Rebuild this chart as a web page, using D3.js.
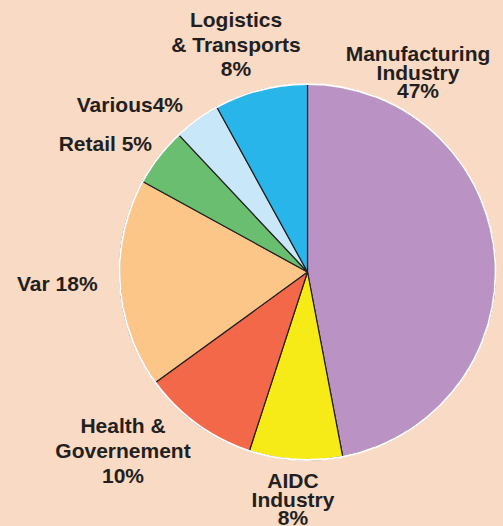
<!DOCTYPE html>
<html>
<head>
<meta charset="utf-8">
<script src="https://cdn.jsdelivr.net/npm/d3@7"></script>
<style>
  body { margin: 0; background: #F8DAC5; }
  svg { display: block; }
  text { font-family: "Liberation Sans", Arial, sans-serif; font-weight: bold; fill: #231F20; }
</style>
</head>
<body>
<svg></svg>
<script>
// Sectors, clockwise from 12 o'clock
var sectors = ['Manufacturing Industry', 'AIDC Industry', 'Health & Governement', 'Var', 'Retail', 'Various', 'Logistics & Transports'];
var shares = [47, 8, 10, 18, 5, 4, 8];
var colors = ['#BA92C4', '#F6EB17', '#F26849', '#FDC689', '#69BF6F', '#C8E8F9', '#28B6EA'];
// label lines per sector
var labelLines = [
    ['Manufacturing', 'Industry', '47%'],
    ['AIDC', 'Industry', '8%'],
    ['Health &', 'Governement', '10%'],
    ['Var 18%'],
    ['Retail 5%'],
    ['Various4%'],
    ['Logistics', '& Transports', '8%']
];

var svgWidth = 503, svgHeight = 526;
var cx = 307.5, cy = 272, radius = 188;

var svg = d3.select("svg")
    .attr("width", svgWidth)
    .attr("height", svgHeight);

var pie = d3.pie().sort(null).value(function(d) { return d; });
var arc = d3.arc().innerRadius(0).outerRadius(radius);

var g = svg.append("g")
    .attr("transform", "translate(" + cx + "," + cy + ")");

g.selectAll(".slice")
    .data(pie(shares))
  .enter().append("path")
    .attr("class", "slice")
    .attr("d", arc)
    .attr("fill", function(d, i) { return colors[i]; })
    .attr("stroke", "#231F20")
    .attr("stroke-width", 1.2)
    .attr("stroke-linejoin", "round");

// white rim
g.append("circle")
    .attr("r", radius)
    .attr("fill", "none")
    .attr("stroke", "#ffffff")
    .attr("stroke-width", 1.8);

// labels: anchor x, first baseline y, line height, text-anchor
var labelPos = [
    { x: 418, y: 61, lh: 18.5, anchor: 'middle' },
    { x: 293, y: 488, lh: 18.5, anchor: 'middle' },
    { x: 123, y: 433, lh: 25, anchor: 'middle' },
    { x: 17, y: 291, lh: 0, anchor: 'start' },
    { x: 152, y: 151, lh: 0, anchor: 'end' },
    { x: 183, y: 112, lh: 0, anchor: 'end' },
    { x: 236, y: 27, lh: 24.7, anchor: 'middle' }
];

labelLines.forEach(function(lines, i) {
    var p = labelPos[i];
    var t = svg.append("text")
        .attr("x", p.x)
        .attr("y", p.y)
        .attr("text-anchor", p.anchor)
        .style("font-size", "21px");
    lines.forEach(function(line, j) {
        t.append("tspan")
            .attr("x", p.x)
            .attr("y", p.y + j * p.lh)
            .text(line);
    });
});
</script>
</body>
</html>
